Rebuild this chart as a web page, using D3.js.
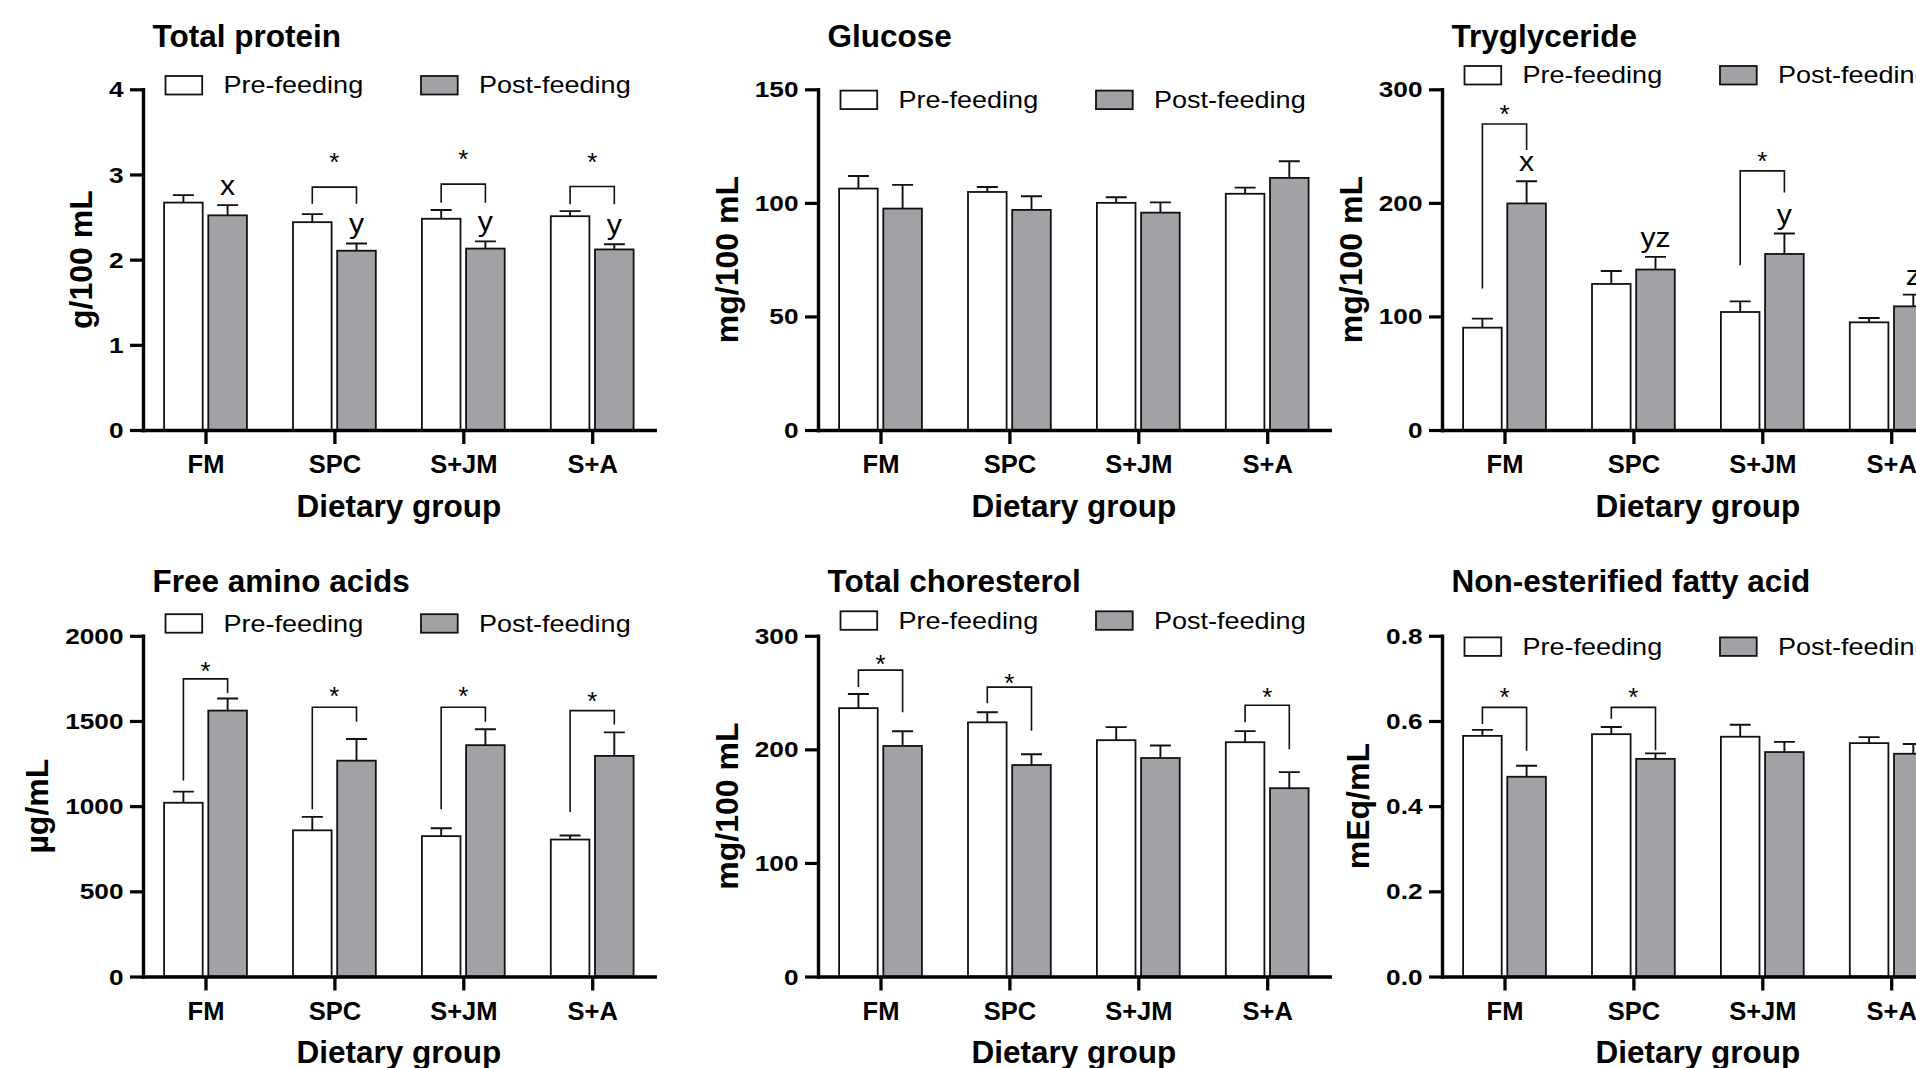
<!DOCTYPE html>
<html>
<head>
<meta charset="utf-8">
<script src="https://cdn.jsdelivr.net/npm/d3@7"></script>
<style>
  html, body { margin: 0; padding: 0; background: #fff; overflow: hidden; }
  svg { display: block; font-family: "Liberation Sans", Arial, Helvetica, sans-serif; }
</style>
</head>
<body>
<svg id="fig" width="1916" height="1068"></svg>
<script>
// ---------- data ----------
const groups = ["FM", "SPC", "S+JM", "S+A"];
const seriesNames = ["Pre-feeding", "Post-feeding"];

// Total protein, g/100 mL (mean, SEM)
const proteinPre = [2.67, 2.44, 2.48, 2.51];
const proteinPreSem = [0.088, 0.095, 0.103, 0.06];
const proteinPost = [2.52, 2.105, 2.13, 2.12];
const proteinPostSem = [0.12, 0.085, 0.084, 0.06];
const proteinTicks = [0, 1, 2, 3, 4];
const proteinLetters = ["x", "y", "y", "y"];
const proteinSig = [
  { group: 1, top: 2.851, left: 2.655, right: 2.655, star: 3.21 },
  { group: 2, top: 2.887, left: 2.669, right: 2.669, star: 3.244 },
  { group: 3, top: 2.859, left: 2.649, right: 2.649, star: 3.216 }
];

// Glucose, mg/100 mL
const glucosePre = [106.3, 104.8, 100.0, 104.0];
const glucosePreSem = [5.5, 2.2, 2.5, 2.7];
const glucosePost = [97.5, 96.9, 95.7, 111.0];
const glucosePostSem = [10.4, 6.0, 4.5, 7.3];
const glucoseTicks = [0, 50, 100, 150];
const glucoseLetters = [];
const glucoseSig = [];

// Triglyceride, mg/100 mL
const tgPre = [90.1, 128.6, 103.9, 94.8];
const tgPreSem = [8.0, 11.4, 9.4, 3.8];
const tgPost = [199.5, 141.3, 155.0, 108.9];
const tgPostSem = [19.6, 11.1, 18.0, 10.3];
const tgTicks = [0, 100, 200, 300];
const tgLetters = ["x", "yz", "y", "z"];
const tgSig = [
  { group: 0, top: 269.4, left: 124.5, right: 246.5, star: 283.2 },
  { group: 2, top: 228.2, left: 145.0, right: 209.2, star: 242.0 }
];

// Free amino acids, µg/mL
const faaPre = [1020, 858, 824, 804];
const faaPreSem = [65, 79, 46, 24];
const faaPost = [1561, 1267, 1358, 1295];
const faaPostSem = [71, 127, 93, 138];
const faaTicks = [0, 500, 1000, 1500, 2000];
const faaLetters = [];
const faaSig = [
  { group: 0, top: 1747, left: 1150, right: 1664, star: 1828 },
  { group: 1, top: 1581, left: 982, right: 1496, star: 1678 },
  { group: 2, top: 1581, left: 982, right: 1496, star: 1678 },
  { group: 3, top: 1561, left: 966, right: 1480, star: 1648 }
];

// Total cholesterol, mg/100 mL
const tcPre = [236.3, 223.8, 208.1, 206.3];
const tcPreSem = [12.4, 8.9, 11.5, 9.8];
const tcPost = [203.0, 186.2, 192.4, 165.8];
const tcPostSem = [13.0, 9.5, 11.0, 14.2];
const tcTicks = [0, 100, 200, 300];
const tcLetters = [];
const tcSig = [
  { group: 0, top: 269.8, left: 255.0, right: 232.7, star: 280.2 },
  { group: 1, top: 254.8, left: 240.6, right: 216.4, star: 263.7 },
  { group: 3, top: 238.8, left: 223.8, right: 200.1, star: 251.0 }
];

// Non-esterified fatty acid, mEq/mL
const nefaPre = [0.565, 0.569, 0.563, 0.548];
const nefaPreSem = [0.014, 0.017, 0.028, 0.014];
const nefaPost = [0.469, 0.511, 0.527, 0.523];
const nefaPostSem = [0.026, 0.013, 0.024, 0.023];
const nefaTicks = [0, 0.2, 0.4, 0.6, 0.8];
const nefaLetters = [];
const nefaSig = [
  { group: 0, top: 0.632, left: 0.593, right: 0.530, star: 0.669 },
  { group: 1, top: 0.632, left: 0.605, right: 0.531, star: 0.669 }
];

// ---------- layout ----------
const rows = [
  { top: 89.3, zero: 430.0, titleBase: 46.5 },
  { top: 635.8, zero: 976.5, titleBase: 592.3 }
];
const AXIS_LEN = 511.7;
const OUTER = 62.5;          // distance from y axis to first group
const BAR_W = 38.6;
const BAR_GAP = 5.6;
const CAP_W = 21;
const FILLS = ["#ffffff", "#a2a2a6"];
const INK = "#111";

const panels = [
  { title: "Total protein", ylab: "g/100 mL", x0: 143, row: 0, legendDy: -13.3, fmt: d3.format("d"),
    pre: proteinPre, preSem: proteinPreSem, post: proteinPost, postSem: proteinPostSem,
    ticks: proteinTicks, letters: proteinLetters, sig: proteinSig },
  { title: "Glucose", ylab: "mg/100 mL", x0: 818, row: 0, legendDy: 1.3, fmt: d3.format("d"),
    pre: glucosePre, preSem: glucosePreSem, post: glucosePost, postSem: glucosePostSem,
    ticks: glucoseTicks, letters: glucoseLetters, sig: glucoseSig },
  { title: "Tryglyceride", ylab: "mg/100 mL", x0: 1442, row: 0, legendDy: -23.3, fmt: d3.format("d"),
    pre: tgPre, preSem: tgPreSem, post: tgPost, postSem: tgPostSem,
    ticks: tgTicks, letters: tgLetters, sig: tgSig },
  { title: "Free amino acids", ylab: "\u00b5g/mL", x0: 143, row: 1, legendDy: -21.6, fmt: d3.format("d"),
    pre: faaPre, preSem: faaPreSem, post: faaPost, postSem: faaPostSem,
    ticks: faaTicks, letters: faaLetters, sig: faaSig },
  { title: "Total choresterol", ylab: "mg/100 mL", x0: 818, row: 1, legendDy: -24.5, fmt: d3.format("d"),
    pre: tcPre, preSem: tcPreSem, post: tcPost, postSem: tcPostSem,
    ticks: tcTicks, letters: tcLetters, sig: tcSig },
  { title: "Non-esterified fatty acid", ylab: "mEq/mL", x0: 1442, row: 1, legendDy: 1.6, fmt: d3.format(".1f"),
    pre: nefaPre, preSem: nefaPreSem, post: nefaPost, postSem: nefaPostSem,
    ticks: nefaTicks, letters: nefaLetters, sig: nefaSig }
];

const svg = d3.select("#fig");
svg.append("rect").attr("width", 1916).attr("height", 1068).attr("fill", "#fff");

// text drawn with a slight horizontal stretch (legend, letters)
function wideText(parent, x, y, str, size, sx, anchor) {
  return parent.append("text")
    .attr("transform", `translate(${x},${y}) scale(${sx},1)`)
    .attr("text-anchor", anchor || "start")
    .attr("font-size", size)
    .attr("fill", "#000")
    .text(str);
}

function drawPanel(p) {
  const row = rows[p.row];
  const g = svg.append("g");
  const yMax = p.ticks[p.ticks.length - 1];
  const y = d3.scaleLinear().domain([0, yMax]).range([row.zero, row.top]);
  const x = d3.scalePoint().domain(groups)
    .range([p.x0, p.x0 + AXIS_LEN]).padding(OUTER / ((AXIS_LEN - 2 * OUTER) / 3));

  const series = [
    { vals: p.pre, sem: p.preSem, off: -BAR_GAP / 2 - BAR_W, fill: FILLS[0] },
    { vals: p.post, sem: p.postSem, off: BAR_GAP / 2, fill: FILLS[1] }
  ];

  // bars
  series.forEach(s => {
    g.append("g").selectAll("rect").data(groups).join("rect")
      .attr("x", (d) => x(d) + s.off)
      .attr("width", BAR_W)
      .attr("y", (d, i) => y(s.vals[i]))
      .attr("height", (d, i) => y(0) - y(s.vals[i]))
      .attr("fill", s.fill)
      .attr("stroke", INK)
      .attr("stroke-width", 1.8);
  });

  // error bars (upper SEM)
  series.forEach(s => {
    const eg = g.append("g").attr("stroke", INK).attr("stroke-width", 1.9).attr("fill", "none");
    groups.forEach((d, i) => {
      const cx = x(d) + s.off + BAR_W / 2;
      const yt = y(s.vals[i] + s.sem[i]);
      eg.append("path").attr("d", `M${cx},${y(s.vals[i])}V${yt}M${cx - CAP_W / 2},${yt}H${cx + CAP_W / 2}`);
    });
  });

  // group letters over post-feeding bars
  p.letters.forEach((t, i) => {
    const cx = x(groups[i]) + series[1].off + BAR_W / 2;
    wideText(g, cx, y(p.post[i] + p.postSem[i]) - 10, t, 27, 1.12, "middle");
  });

  // significance brackets
  p.sig.forEach(b => {
    const xl = x(groups[b.group]) + series[0].off + BAR_W / 2;
    const xr = x(groups[b.group]) + series[1].off + BAR_W / 2;
    g.append("path")
      .attr("d", `M${xl},${y(b.left)}V${y(b.top)}H${xr}V${y(b.right)}`)
      .attr("fill", "none").attr("stroke", INK).attr("stroke-width", 1.6);
    g.append("text")
      .attr("x", (xl + xr) / 2).attr("y", y(b.star) + 14.5)
      .attr("text-anchor", "middle").attr("font-size", 26).attr("fill", "#000")
      .text("*");
  });

  // y axis
  const TSX = 1.22;
  const ya = g.append("g").attr("transform", `translate(${p.x0},0)`)
    .call(d3.axisLeft(y).tickValues(p.ticks).tickFormat(p.fmt).tickSize(13).tickSizeOuter(0));
  ya.select(".domain").attr("stroke", "#000").attr("stroke-width", 3.4).attr("stroke-linecap", "square");
  ya.selectAll(".tick line").attr("stroke", "#000").attr("stroke-width", 3.2);
  const yTexts = ya.selectAll(".tick text")
    .attr("font-family", null).attr("font-size", 21.5).attr("font-weight", "bold").attr("fill", "#000")
    .attr("x", -19.5 / TSX).attr("dy", "0.35em").attr("transform", `scale(${TSX},1)`);
  let maxLen = 0;
  yTexts.each(function () { maxLen = Math.max(maxLen, this.getComputedTextLength() * TSX); });

  // x axis
  const xa = g.append("g").attr("transform", `translate(0,${row.zero})`)
    .call(d3.axisBottom(x).tickSize(14).tickSizeOuter(0));
  xa.select(".domain").attr("stroke", "#000").attr("stroke-width", 3.5).attr("stroke-linecap", "square");
  xa.selectAll(".tick line").attr("stroke", "#000").attr("stroke-width", 3.3);
  xa.selectAll(".tick text")
    .attr("font-family", null).attr("font-size", 25.5).attr("font-weight", "bold").attr("fill", "#000")
    .attr("y", 43.3).attr("dy", 0);

  // axis titles
  g.append("text")
    .attr("x", p.x0 + AXIS_LEN / 2).attr("y", row.zero + 86.7)
    .attr("text-anchor", "middle").attr("font-size", 31.5).attr("font-weight", "bold")
    .text("Dietary group");
  const ylx = p.x0 - 19.5 - maxLen - 17;
  g.append("text")
    .attr("transform", `translate(${ylx},${(row.top + row.zero) / 2}) rotate(-90)`)
    .attr("text-anchor", "middle").attr("font-size", 32).attr("font-weight", "bold")
    .text(p.ylab);

  // panel title
  g.append("text")
    .attr("x", p.x0 + 9.5).attr("y", row.titleBase)
    .attr("font-size", 31.5).attr("font-weight", "bold")
    .text(p.title);

  // legend
  const ly = row.top + p.legendDy;
  [22.5, 278].forEach((dx, k) => {
    g.append("rect")
      .attr("x", p.x0 + dx).attr("y", ly).attr("width", 36.7).attr("height", 18.5)
      .attr("fill", FILLS[k]).attr("stroke", INK).attr("stroke-width", 1.8);
    wideText(g, p.x0 + dx + 58, ly + 17.4, seriesNames[k], 23.4, 1.155, "start");
  });
}

panels.forEach(drawPanel);
</script>
</body>
</html>
